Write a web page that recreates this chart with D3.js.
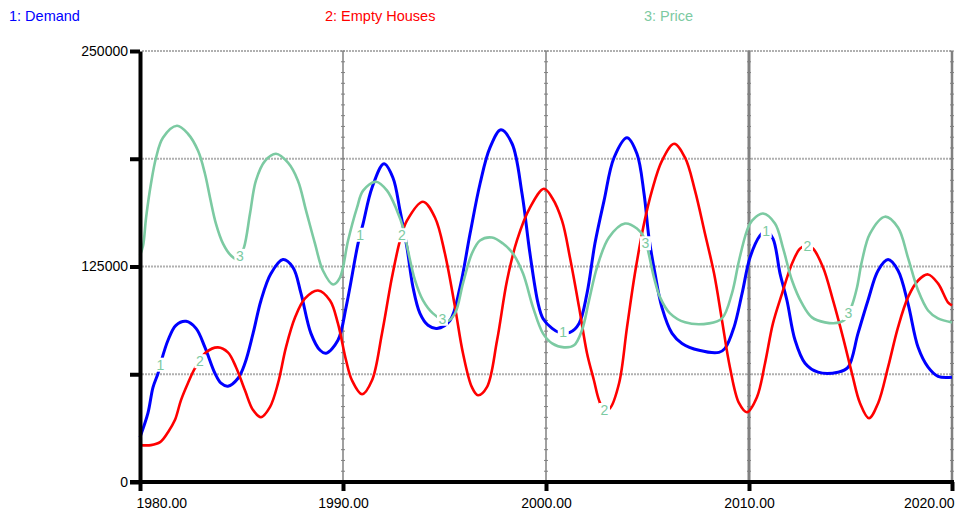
<!DOCTYPE html>
<html>
<head>
<meta charset="utf-8">
<script src="https://cdn.jsdelivr.net/npm/d3@7"></script>
<style>
  body { margin: 0; background: #fff; }
  text { font-family: Arial, "Liberation Sans", sans-serif; }
</style>
</head>
<body>
<div id="chart"></div>
<script>
// series: [year, value]
const demand = [
  [1980.00, 26000], [1980.39, 39900], [1980.64, 54900], [1980.89, 63100], [1981.03, 69400],
  [1981.38, 82200], [1981.77, 90900], [1982.27, 93200], [1982.76, 89100], [1983.20, 78100],
  [1983.69, 63100], [1983.99, 57300], [1984.33, 55600], [1984.83, 60200], [1985.17, 68900],
  [1985.57, 86200], [1985.96, 105300], [1986.45, 120900], [1987.04, 129000], [1987.54, 124400],
  [1987.93, 109400], [1988.42, 86200], [1988.87, 76400], [1989.16, 74700], [1989.75, 82200],
  [1990.15, 101300], [1990.34, 112800], [1990.74, 138300], [1990.99, 149900], [1991.43, 170700],
  [1992.02, 184600], [1992.46, 176500], [1992.81, 157400], [1993.15, 136000], [1993.45, 112800],
  [1993.79, 97800], [1994.19, 90900], [1994.63, 89100], [1995.27, 93700], [1995.76, 112800],
  [1996.26, 144100], [1996.75, 173000], [1997.24, 193900], [1997.78, 204300], [1998.33, 196200],
  [1998.82, 167200], [1999.21, 132500], [1999.61, 103600], [1999.85, 94900], [2000.30, 89100],
  [2000.64, 86800], [2001.18, 86800], [2001.63, 92000], [2002.02, 109400], [2002.41, 138300],
  [2002.86, 163200], [2003.35, 188100], [2003.99, 199700], [2004.48, 190400], [2004.83, 167200],
  [2005.07, 141800], [2005.37, 120900], [2005.71, 101300], [2006.21, 86200], [2006.70, 80400],
  [2007.54, 76400], [2008.52, 75200], [2008.82, 77500], [2009.26, 89700], [2009.66, 109400],
  [2010.05, 130200], [2010.54, 142900], [2010.84, 145800], [2011.18, 141200], [2011.53, 120900],
  [2011.87, 105300], [2012.27, 82200], [2012.76, 68900], [2013.40, 63700], [2014.38, 63700],
  [2014.88, 66600], [2015.37, 86200], [2015.86, 105300], [2016.36, 122700], [2016.85, 129000],
  [2017.34, 122700], [2017.83, 103600], [2018.33, 78100], [2018.82, 66600], [2019.31, 61300],
  [2020.00, 60800]
];

const emptyHouses = [
  [1980.00, 21400], [1980.54, 21400], [1980.99, 23100], [1981.38, 28900], [1981.72, 35900],
  [1982.02, 47500], [1982.36, 57300], [1982.71, 66000], [1983.25, 75200], [1983.84, 78100],
  [1984.33, 75200], [1984.73, 66600], [1985.17, 53200], [1985.57, 41700], [1985.96, 37600],
  [1986.40, 43400], [1986.80, 57300], [1987.19, 78100], [1987.64, 95500], [1988.13, 106500],
  [1988.77, 111100], [1989.36, 105300], [1989.75, 92000], [1990.15, 70600], [1990.44, 59000],
  [1990.94, 50900], [1991.43, 59000], [1991.92, 86200], [1992.41, 118600], [1992.81, 140100],
  [1993.15, 151600], [1993.94, 162600], [1994.53, 153400], [1995.02, 132500], [1995.52, 101300],
  [1995.91, 74700], [1996.35, 55000], [1996.65, 50300], [1997.09, 55000], [1997.59, 82200],
  [1998.08, 116900], [1998.57, 140100], [1999.21, 159100], [1999.90, 170100], [2000.30, 164900],
  [2000.79, 151600], [2001.18, 130200], [2001.63, 101300], [2002.02, 74700], [2002.36, 59000],
  [2002.61, 47500], [2002.86, 41700], [2003.15, 42800], [2003.60, 57300], [2003.99, 89700],
  [2004.38, 120900], [2004.83, 149900], [2005.22, 169000], [2005.71, 186300], [2006.31, 196200],
  [2006.85, 188100], [2007.34, 169000], [2007.83, 144100], [2008.28, 120900], [2008.67, 93700],
  [2009.06, 66600], [2009.51, 45700], [2009.90, 40500], [2010.39, 49200], [2010.79, 68900],
  [2011.18, 92000], [2011.63, 109400], [2012.12, 126700], [2012.51, 135400], [2012.81, 137200],
  [2013.15, 135400], [2013.65, 124400], [2014.14, 105300], [2014.63, 83900], [2015.07, 63100],
  [2015.47, 45700], [2015.91, 37000], [2016.36, 45700], [2016.85, 66600], [2017.34, 89700],
  [2017.83, 107100], [2018.33, 116900], [2018.82, 120400], [2019.31, 115200], [2019.80, 104200],
  [2020.00, 102400]
];

const price = [
  [1980.00, 131400], [1980.15, 137000], [1980.30, 153400], [1980.54, 173000], [1980.79, 188100],
  [1981.13, 199700], [1981.82, 206600], [1982.36, 202000], [1982.86, 192100], [1983.20, 178800],
  [1983.45, 164900], [1983.74, 149900], [1984.09, 138300], [1984.48, 131400], [1984.83, 129000],
  [1985.12, 136000], [1985.42, 155700], [1985.71, 174800], [1986.16, 186300], [1986.70, 190400],
  [1987.29, 185200], [1987.78, 174800], [1988.18, 157400], [1988.62, 138300], [1989.01, 122700],
  [1989.51, 114600], [1989.85, 118600], [1990.25, 140100], [1990.69, 159100], [1990.99, 169000],
  [1991.63, 174200], [1992.17, 169000], [1992.66, 157400], [1992.96, 147600], [1993.20, 134300],
  [1993.55, 116900], [1993.94, 105300], [1994.43, 97800], [1995.12, 93200], [1995.52, 97800],
  [1995.91, 115200], [1996.35, 132500], [1996.75, 140100], [1997.34, 141800], [1997.88, 138300],
  [1998.37, 132500], [1998.87, 120900], [1999.36, 101300], [1999.85, 86200], [2000.30, 80400],
  [2000.89, 78100], [2001.38, 79300], [2001.77, 88000], [2002.12, 105300], [2002.51, 124400],
  [2003.10, 141800], [2003.89, 149900], [2004.48, 147000], [2004.83, 141800], [2005.32, 118600],
  [2005.62, 107100], [2006.11, 97800], [2006.85, 92600], [2008.03, 92000], [2008.67, 94900],
  [2009.16, 109400], [2009.51, 128500], [2009.90, 145800], [2010.15, 151600], [2010.69, 155700],
  [2011.28, 149900], [2011.67, 136000], [2012.12, 116900], [2012.61, 103600], [2013.10, 95500],
  [2013.74, 92600], [2014.48, 92600], [2014.78, 94900], [2015.07, 102400], [2015.32, 112800],
  [2015.57, 128500], [2015.96, 144100], [2016.70, 153900], [2017.34, 147600], [2017.83, 130200],
  [2018.33, 111100], [2018.82, 99500], [2019.31, 94900], [2020.00, 92600]
];

const seriesNames = ["1: Demand", "2: Empty Houses", "3: Price"];
const seriesColors = ["#0000ff", "#ff0000", "#7ccaa2"];
const labelYears = [
  [1981.0, 1990.85, 2000.85, 2010.85],
  [1982.95, 1992.9, 2002.88, 2012.88],
  [1984.92, 1994.9, 2004.9, 2014.9]
];
const yTicks = [0, 62500, 125000, 187500, 250000];
const yLabelTicks = [0, 125000, 250000];
const xTicks = [1980, 1990, 2000, 2010, 2020];

const width = 957, height = 511;
const margin = {top: 51, right: 5, bottom: 29, left: 140};

const svg = d3.select("#chart")
  .append("svg")
  .attr("width", width)
  .attr("height", height);

const x = d3.scaleLinear()
  .domain([1980, 2020])
  .range([margin.left, width - margin.right]);

const y = d3.scaleLinear()
  .domain([0, 250000])
  .range([height - margin.bottom, margin.top]);

// horizontal dotted grid
svg.selectAll(".hgrid")
  .data(yTicks.filter(d => d > 0))
  .enter()
  .append("line")
  .attr("x1", x(1980) + 2)
  .attr("x2", x(2020))
  .attr("y1", d => y(d))
  .attr("y2", d => y(d))
  .attr("stroke", "#b0b0b0")
  .attr("stroke-width", 2)
  .attr("stroke-dasharray", "2 1");

// vertical grid lines with small ruler marks
const vWidths = {1990: 1.5, 2000: 1.5, 2010: 3, 2020: 2.5};
const vgrid = xTicks.filter(d => d > 1980);
svg.selectAll(".vgrid")
  .data(vgrid)
  .enter()
  .append("line")
  .attr("x1", d => x(d))
  .attr("x2", d => x(d))
  .attr("y1", y(250000))
  .attr("y2", y(0))
  .attr("stroke", "#808080")
  .attr("stroke-width", d => vWidths[d]);

const minor = d3.range(0, 250001, 6250);
vgrid.forEach(t => {
  svg.selectAll(null)
    .data(minor)
    .enter()
    .append("line")
    .attr("x1", x(t) - 2)
    .attr("x2", x(t) + 2)
    .attr("y1", d => y(d))
    .attr("y2", d => y(d))
    .attr("stroke", "#808080")
    .attr("stroke-width", 1);
});

// the lines
const line = d3.line()
  .x(d => x(d[0]))
  .y(d => y(d[1]))
  .curve(d3.curveCatmullRom.alpha(0.5));

const allSeries = [demand, emptyHouses, price];
const lineWidths = [3, 2.6, 2.6];
allSeries.forEach((s, i) => {
  svg.append("path")
    .datum(s)
    .attr("fill", "none")
    .attr("stroke", seriesColors[i])
    .attr("stroke-width", lineWidths[i])
    .attr("d", line);
});

// numbered line labels, placed on the series value at that year
const bis = d3.bisector(d => d[0]).left;
function valueAt(s, t) {
  const i = bis(s, t);
  const a = s[Math.max(0, i - 1)], b = s[Math.min(s.length - 1, i)];
  if (a[0] === b[0]) return a[1];
  return a[1] + (b[1] - a[1]) * (t - a[0]) / (b[0] - a[0]);
}

allSeries.forEach((s, i) => {
  const g = svg.selectAll(null)
    .data(labelYears[i])
    .enter()
    .append("g")
    .attr("transform", t => `translate(${x(t)},${y(valueAt(s, t))})`);
  g.append("rect")
    .attr("x", -5.5)
    .attr("y", -7)
    .attr("width", 11)
    .attr("height", 14)
    .attr("fill", "#fff");
  g.append("text")
    .attr("text-anchor", "middle")
    .attr("dy", "0.36em")
    .attr("font-size", 14)
    .attr("fill", seriesColors[2])
    .text(i + 1);
});

// y axis
const yAxis = d3.axisLeft(y)
  .tickValues(yTicks)
  .tickSize(10)
  .tickSizeOuter(0)
  .tickPadding(2)
  .tickFormat(d => yLabelTicks.includes(d) ? d : "");

const yAxisGroup = svg.append("g")
  .attr("transform", `translate(${x(1980)},0)`)
  .call(yAxis);
yAxisGroup.select(".domain").attr("stroke", "#000").attr("stroke-width", 4);
yAxisGroup.selectAll(".tick line").attr("stroke", "#000").attr("stroke-width", 4);
yAxisGroup.selectAll("text")
  .attr("font-size", 14)
  .attr("font-family", "Arial, 'Liberation Sans', sans-serif")
  .attr("fill", "#000");

// x axis
const xAxis = d3.axisBottom(x)
  .tickValues(xTicks)
  .tickSize(9)
  .tickSizeOuter(0)
  .tickPadding(7)
  .tickFormat(d3.format(".2f"));

const xAxisGroup = svg.append("g")
  .attr("transform", `translate(0,${y(0)})`)
  .call(xAxis);
xAxisGroup.select(".domain").remove();
xAxisGroup.append("line")
  .attr("x1", x(1980) - 10)
  .attr("x2", x(2020) + 2)
  .attr("stroke", "#000")
  .attr("stroke-width", 4);
xAxisGroup.selectAll(".tick line").attr("stroke", "#000").attr("stroke-width", 4);
xAxisGroup.selectAll("text")
  .attr("font-size", 14)
  .attr("font-family", "Arial, 'Liberation Sans', sans-serif")
  .attr("fill", "#000")
  .attr("text-anchor", d => d === 1980 ? "start" : d === 2020 ? "end" : "middle")
  .attr("dx", d => d === 1980 ? -4 : d === 2020 ? 2 : 0);

// legend across the top
const legendX = [9, 325, 644];
svg.selectAll(".legend")
  .data(seriesNames)
  .enter()
  .append("text")
  .attr("x", (d, i) => legendX[i])
  .attr("y", 21)
  .attr("font-size", 14.5)
  .attr("fill", (d, i) => seriesColors[i])
  .text(d => d);
</script>
</body>
</html>
